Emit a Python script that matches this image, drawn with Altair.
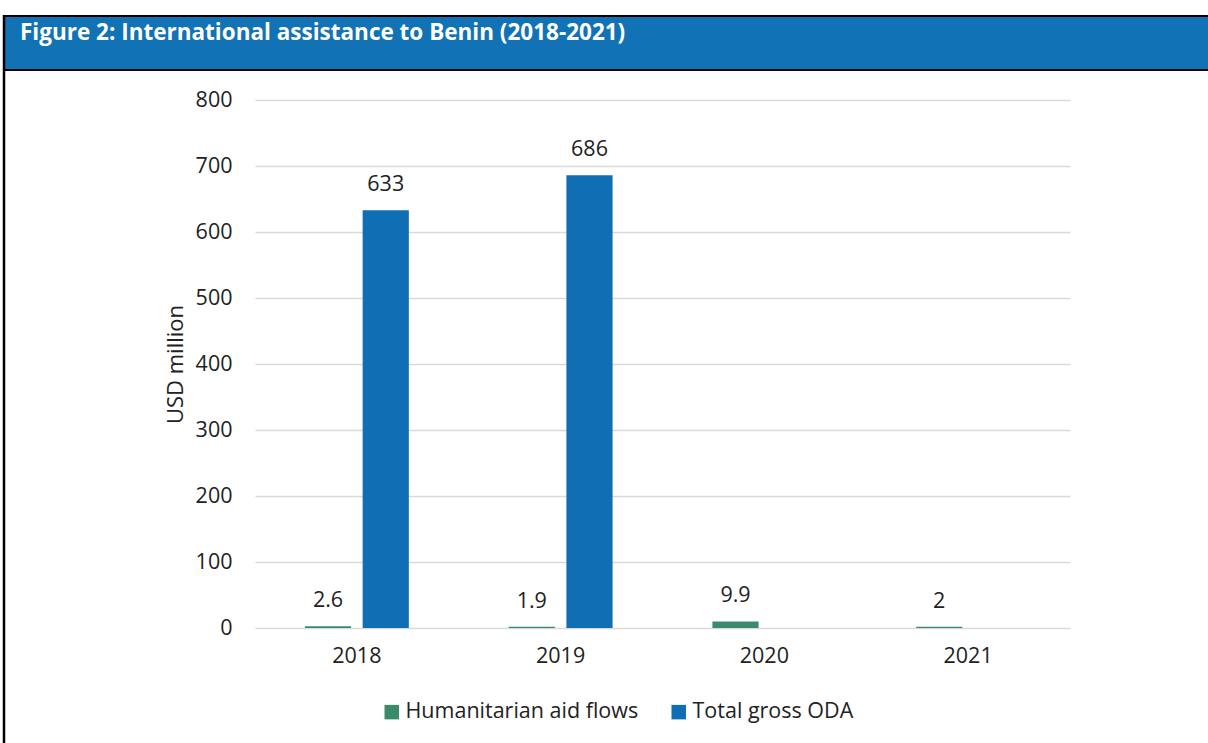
import altair as alt
import pandas as pd

years = ["2018", "2019", "2020", "2021"]
humanitarian = [2.6, 1.9, 9.9, 2.0]
total_oda = [633, 686, None, None]
series_names = ["Humanitarian aid flows", "Total gross ODA"]
series_colors = ["#3b8a6b", "#0f6eb4"]
y_ticks = [0, 100, 200, 300, 400, 500, 600, 700, 800]
title_text = "Figure 2: International assistance to Benin (2018-2021)"

rows = []
for y, h, t in zip(years, humanitarian, total_oda):
    rows.append({"year": y, "series": series_names[0], "value": h})
    if t is not None:
        rows.append({"year": y, "series": series_names[1], "value": t})
df = pd.DataFrame(rows)

FONT = "Open Sans"
FS = 21.5
W, H = 815, 528

x_enc = alt.X("year:N", sort=years,
              scale=alt.Scale(paddingInner=0.49, paddingOuter=0.245),
              axis=alt.Axis(title=None, labelAngle=0, labelFontSize=FS, labelFont=FONT,
                            labelColor="#222222", labelPadding=17, ticks=False,
                            domain=False, grid=False))
xoff = alt.XOffset("series:N", sort=series_names,
                   scale=alt.Scale(paddingInner=0.2, paddingOuter=0))
y_enc = alt.Y("value:Q", scale=alt.Scale(domain=[0, 800], nice=False),
              axis=alt.Axis(values=y_ticks, title="USD million", titleFont=FONT,
                            titleFontSize=22, titleFontWeight="normal", titleColor="#222222",
                            titleX=-80, titleY=H / 2, titleAngle=270, titleAlign="center",
                            titleBaseline="middle",
                            labelFontSize=FS, labelFont=FONT, labelColor="#222222",
                            labelPadding=23, ticks=False, domain=False,
                            gridColor="#d9d9d9", gridWidth=1.5))

bars = alt.Chart(df).mark_bar().encode(
    x=x_enc, xOffset=xoff, y=y_enc,
    color=alt.Color("series:N", sort=series_names,
                    scale=alt.Scale(domain=series_names, range=series_colors),
                    legend=alt.Legend(title=None, orient="none", direction="horizontal",
                                      legendX=126, legendY=601, symbolType="square",
                                      symbolSize=210, symbolStrokeWidth=0,
                                      labelFontSize=FS, labelFont=FONT, labelColor="#222222",
                                      labelLimit=0, columnPadding=29, labelOffset=3)),
)

labels = alt.Chart(df).mark_text(fontSize=FS, font=FONT, color="#222222",
                                 baseline="middle", dy=-25).encode(
    x=alt.X("year:N", sort=years), xOffset=alt.XOffset("series:N", sort=series_names),
    y="value:Q", text=alt.Text("value:Q", format=".4~g"),
)

banner_df = pd.DataFrame({"t": [title_text]})
banner = alt.Chart(banner_df).mark_rect(fill="#1172b5", stroke="#000000", strokeWidth=2).encode(
    x=alt.value(-251), x2=alt.value(1208 - 255 + 10), y=alt.value(-84), y2=alt.value(-30))
banner_text = alt.Chart(banner_df).mark_text(align="left", baseline="middle", font=FONT,
                                            fontWeight="bold", fontSize=22.5, color="white").encode(
    x=alt.value(-235), y=alt.value(-67), text="t:N")
left_border = alt.Chart(banner_df).mark_rule(color="#000000", strokeWidth=2.5).encode(
    x=alt.value(-251), y=alt.value(-85), y2=alt.value(H + 115 + 5))

chart = alt.layer(bars, labels, banner, banner_text, left_border).properties(
    width=W, height=H,
    autosize=alt.AutoSizeParams(type="none"),
    padding={"left": 255, "top": 100, "right": 138, "bottom": 115},
    background="white",
).configure_view(stroke=None)

chart.save("out.html", embed_options={"renderer": "svg", "actions": False})
